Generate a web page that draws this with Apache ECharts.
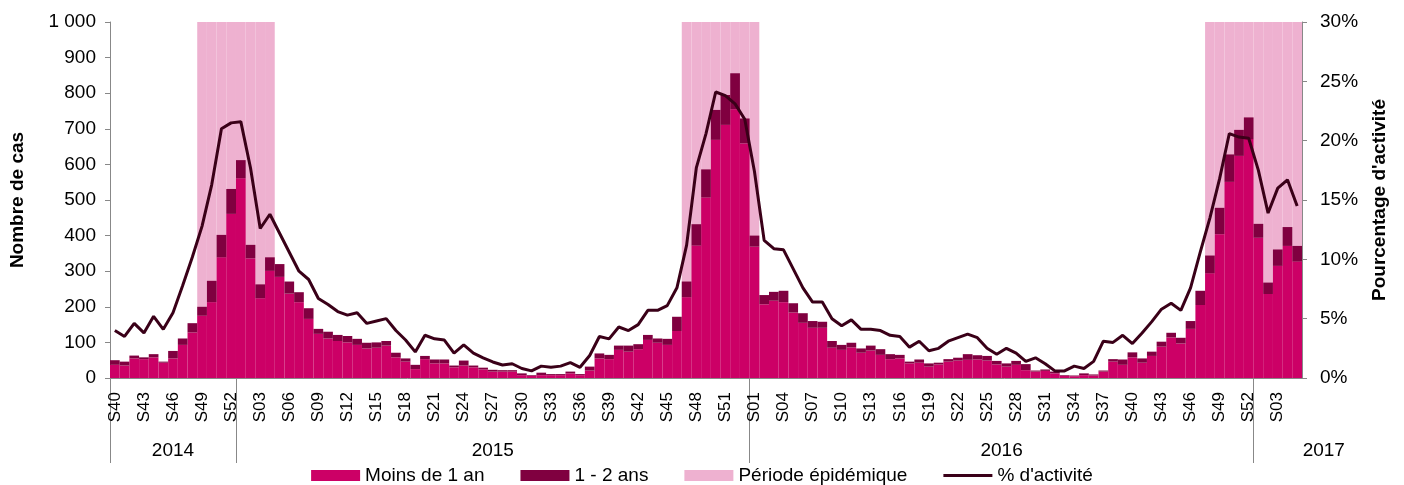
<!DOCTYPE html>
<html lang="fr">
<head>
<meta charset="utf-8">
<title>Nombre de cas et pourcentage d'activité</title>
<script src="https://cdn.jsdelivr.net/npm/echarts@6/dist/echarts.min.js"></script>
<style>
  html, body { margin: 0; padding: 0; background: #fff; }
  #chart { width: 1404px; height: 485px; }
</style>
</head>
<body>
<div id="chart"></div>
<script>
// semaines de S40 2014 à S05 2017
const annees = [2014, 2015, 2016, 2017];
const premiereSemaine = [40, 1, 1, 1];
const derniereSemaine = [52, 53, 52, 5];

// nombre de cas, moins de 1 an
const moinsUnAn = [
  37, 35, 55, 53, 58, 43, 55, 93, 128, 175, 213, 339, 461,
  561, 336, 224, 301, 284, 237, 213, 166, 124, 111, 104, 100, 93, 83, 85, 91, 58, 46, 25, 53, 41, 41, 30, 35,
  30, 24, 18, 18, 18, 8, 6, 8, 8, 8, 13, 8, 21, 55, 53, 79, 74, 81, 107, 99, 93, 132, 227, 372, 507, 669, 711, 755, 659,
  369, 207, 217, 213, 184, 155, 141, 141, 85, 79, 86, 71, 77, 65, 53, 55, 41, 43, 32, 38, 46, 49, 51, 52, 49, 38,
  32, 37, 22, 18, 20, 13, 6, 5, 8, 7, 18, 46, 37, 58, 43, 62, 88, 114, 97, 138, 205, 294, 404, 551, 624, 671,
  394, 236, 315, 371, 327
];

// nombre de cas, 1 - 2 ans
const unDeuxAns = [
  13, 11, 8, 5, 9, 3, 21, 18, 26, 25, 60, 63, 70,
  51, 38, 39, 38, 36, 34, 28, 30, 14, 19, 17, 18, 17, 16, 15, 13, 13, 9, 12, 9, 11, 11, 5, 14,
  5, 5, 5, 4, 4, 5, 2, 7, 3, 3, 5, 3, 11, 14, 12, 12, 17, 14, 14, 12, 17, 40, 44, 60, 79, 84, 84, 101, 70,
  31, 26, 25, 32, 26, 27, 19, 17, 19, 14, 13, 12, 14, 16, 14, 10, 5, 9, 9, 5, 7, 8, 16, 12, 13, 10,
  9, 11, 17, 3, 4, 5, 2, 2, 5, 3, 3, 7, 15, 14, 12, 12, 14, 13, 16, 22, 40, 50, 74, 77, 73, 61,
  39, 32, 46, 53, 44
];

// % d'activité
const pctActivite = [
  4.0, 3.5, 4.6, 3.8, 5.2, 4.1, 5.5, 7.8, 10.2, 12.8, 16.3, 21.0, 21.5,
  21.6, 17.7, 12.6, 13.8, 12.2, 10.6, 9.0, 8.3, 6.7, 6.2, 5.6, 5.3, 5.5, 4.6, 4.8, 5.0, 4.0, 3.2, 2.2, 3.6, 3.3, 3.2, 2.1, 2.8,
  2.1, 1.7, 1.35, 1.1, 1.2, 0.8, 0.6, 1.0, 0.9, 1.0, 1.3, 0.9, 1.9, 3.5, 3.3, 4.3, 4.0, 4.5, 5.7, 5.7, 6.1, 7.6, 11.2, 17.7, 20.6, 24.1, 23.8, 23.1, 21.8,
  17.4, 11.6, 10.9, 10.8, 9.2, 7.6, 6.4, 6.4, 5.0, 4.4, 4.9, 4.1, 4.1, 4.0, 3.6, 3.5, 2.6, 3.1, 2.3, 2.5, 3.1, 3.4, 3.7, 3.4, 2.5, 2.0,
  2.5, 2.1, 1.4, 1.7, 1.2, 0.6, 0.6, 1.0, 0.8, 1.4, 3.1, 3.0, 3.6, 2.9, 3.8, 4.75, 5.8, 6.3, 5.7, 7.6, 10.6, 13.5, 16.8, 20.6, 20.3, 20.2,
  17.5, 13.9, 16.0, 16.7, 14.5
];

// périodes épidémiques (première et dernière semaine)
const periodesEpidemiques = [
  ['2014-S49', '2015-S04'],
  ['2015-S47', '2016-S01'],
  ['2016-S48', '2017-S05']
];

const maxCas = 1000;
const maxPct = 30;

const semaines = [];
const debutAnnee = [];
annees.forEach((a, k) => {
  debutAnnee.push(semaines.length);
  for (let s = premiereSemaine[k]; s <= derniereSemaine[k]; s++) {
    semaines.push(a + '-S' + String(s).padStart(2, '0'));
  }
});
const nbSemaines = semaines.length;

const epidemie = semaines.map((_, i) => {
  const dansPeriode = periodesEpidemiques.some(p =>
    i >= semaines.indexOf(p[0]) && i <= semaines.indexOf(p[1]));
  return dansPeriode ? maxCas : '-';
});

// milieu de chaque année sur l'axe, pour l'étiquette de l'année
const milieuAnnee = annees.map((a, k) => {
  const fin = k + 1 < annees.length ? debutAnnee[k + 1] : nbSemaines;
  return (debutAnnee[k] + fin) / 2;
});

const gris = '#888888';
const police = 'Liberation Sans, Arial, sans-serif';

const chart = echarts.init(document.getElementById('chart'));

chart.setOption({
  animation: false,
  textStyle: { fontFamily: police },
  grid: { left: 109, right: 102, top: 22, bottom: 107 },
  legend: {
    top: 461,
    left: 'center',
    itemWidth: 49,
    itemHeight: 11,
    itemGap: 36,
    textStyle: { fontSize: 19, color: '#000', fontFamily: police },
    data: [
      { name: 'Moins de 1 an', icon: 'rect' },
      { name: '1 - 2 ans', icon: 'rect' },
      { name: 'Période épidémique', icon: 'rect' },
      { name: "% d'activité", icon: 'path://M0,0H49V3H0Z' }
    ]
  },
  xAxis: [
    {
      type: 'category',
      data: semaines,
      axisLine: { lineStyle: { color: gris } },
      axisTick: { show: false },
      axisLabel: {
        interval: 2,
        rotate: 90,
        margin: 14,
        fontSize: 17,
        color: '#000',
        formatter: v => v.split('-')[1]
      }
    },
    {
      type: 'value',
      position: 'bottom',
      min: 0,
      max: nbSemaines,
      axisLine: { show: false },
      splitLine: { show: false },
      axisTick: {
        show: true,
        customValues: debutAnnee,
        length: 85,
        lineStyle: { color: gris }
      },
      axisLabel: {
        customValues: milieuAnnee,
        margin: 63,
        fontSize: 19,
        color: '#000',
        formatter: v => {
          const k = milieuAnnee.indexOf(v);
          if (k === annees.length - 1) return '{dernier|' + annees[k] + '}';
          return String(annees[k]);
        },
        rich: {
          dernier: { fontSize: 19, color: '#000', padding: [0, 0, 0, 92], fontFamily: police }
        }
      }
    }
  ],
  yAxis: [
    {
      type: 'value',
      min: 0,
      max: maxCas,
      interval: 100,
      name: 'Nombre de cas',
      nameLocation: 'middle',
      nameGap: 83,
      nameTextStyle: { fontSize: 19, fontWeight: 'bold', color: '#000' },
      axisLine: { show: true, lineStyle: { color: gris } },
      axisTick: { show: true, length: 5, lineStyle: { color: gris } },
      splitLine: { show: false },
      axisLabel: {
        margin: 14,
        fontSize: 19,
        color: '#000',
        formatter: v => String(v).replace(/\B(?=(\d{3})+(?!\d))/g, ' ')
      }
    },
    {
      type: 'value',
      min: 0,
      max: maxPct,
      interval: 5,
      name: "Pourcentage d'activité",
      nameLocation: 'middle',
      nameGap: 68,
      nameTextStyle: { fontSize: 19, fontWeight: 'bold', color: '#000' },
      axisLine: { show: true, lineStyle: { color: gris } },
      axisTick: { show: true, length: 5, lineStyle: { color: gris } },
      splitLine: { show: false },
      axisLabel: { margin: 18, fontSize: 19, color: '#000', formatter: '{value}%' }
    }
  ],
  series: [
    {
      name: 'Période épidémique',
      type: 'bar',
      data: epidemie,
      barGap: '-100%',
      barCategoryGap: '0%',
      itemStyle: { color: '#EEB1D0' },
      z: 1
    },
    {
      name: 'Moins de 1 an',
      type: 'bar',
      stack: 'cas',
      data: moinsUnAn,
      barGap: '-100%',
      barCategoryGap: '0%',
      itemStyle: { color: '#CC0066' },
      z: 2
    },
    {
      name: '1 - 2 ans',
      type: 'bar',
      stack: 'cas',
      data: unDeuxAns,
      barGap: '-100%',
      barCategoryGap: '0%',
      itemStyle: { color: '#800040' },
      z: 2
    },
    {
      name: "% d'activité",
      type: 'line',
      yAxisIndex: 1,
      data: pctActivite,
      symbol: 'none',
      lineStyle: { color: '#3A0018', width: 3 },
      itemStyle: { color: '#3A0018' },
      z: 5
    }
  ]
});
</script>
</body>
</html>
